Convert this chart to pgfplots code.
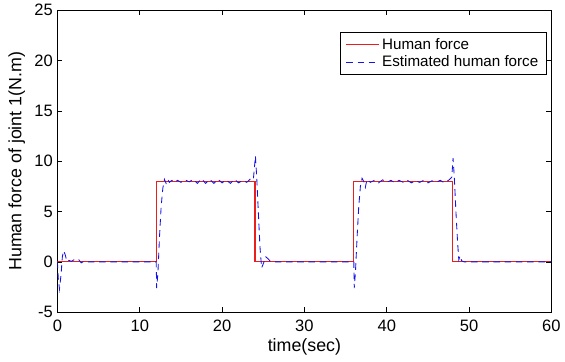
\documentclass[border=0pt]{standalone}
\usepackage{fontspec}
\setmainfont{Liberation Sans}
\usepackage{pgfplots}
\pgfplotsset{compat=1.18}
\begin{document}
\begin{tikzpicture}
\begin{axis}[
  name=ax,
  scale only axis,
  width=374.25pt, height=228.75pt,
  xmin=0, xmax=60, ymin=-5, ymax=25,
  xtick={0,10,...,60}, ytick={-5,0,...,25},
  tick align=inside,
  tick style={black, line width=0.4pt},
  major tick length=3.75pt,
  axis line style={line width=0.5pt},
  /pgf/number format/assume math mode=true,
  ticklabel style={font=\fontsize{12.5}{14}\selectfont},
  xticklabel style={yshift=-2pt},
  xlabel={time(sec)}, ylabel={Human force of joint 1(N.m)},
  label style={font=\fontsize{13.5}{15}\selectfont},
  xlabel style={at={(axis description cs:0.5,0)}, anchor=center, yshift=-26.5pt},
  ylabel style={at={(axis description cs:0,0.5)}, anchor=center, yshift=30.75pt},
  legend style={at={(1,1)}, anchor=north east, xshift=-3.75pt, yshift=-16.5pt,
    font=\fontsize{11.5}{13}\selectfont, draw=black, line width=0.4pt, inner xsep=4pt, inner ysep=2.5pt, row sep=-0.5pt},
  legend cell align=left,
  legend image post style={xscale=1.45},
]
\addplot[color={rgb,255:red,235;green,30;blue,30}, line width=0.9pt] coordinates {
(0,0) (12,0) (12,8) (24,8) (24,0) (36,0) (36,8) (48,8) (48,0) (60,0)};
\addlegendentry{Human force}
\addplot[color={rgb,255:red,20;green,20;blue,230}, line width=0.65pt, dash pattern=on 5pt off 3.5pt] coordinates {
(0,0) (0.1,-1.6) (0.25,-2.7) (0.45,-1.2) (0.6,0.5) (0.75,1.1) (0.95,0.7) (1.15,0.05) (1.4,0.15) (1.7,0.05) (2.0,0.2) (2.3,0.1) (2.6,0.2) (2.9,-0.1) (3.2,0.05) (3.6,0) (8,0) (12,0)
(12.05,-2.6) (12.2,-1.2) (12.4,2.5) (12.6,5.5) (12.8,7.3) (13.0,8.2) (13.2,7.8) (13.4,8.2) (13.6,7.9) (13.9,8.1) (14.2,7.9) (14.6,8.1) (15,7.9) (15.5,8.15) (16,7.95) (16.5,8.2) (17,7.8) (17.5,8.25) (18,7.8) (18.5,8.2) (19,7.8) (19.5,8.2) (20,7.85) (20.5,8.15) (21,7.8) (21.5,8.2) (22,7.85) (22.5,8.1) (23,7.9) (23.5,8.3) (23.8,8.2) (24.05,10.5)
(24.2,8.5) (24.4,5) (24.6,1.5) (24.8,-0.6) (25.0,-0.2) (25.3,0.5) (25.6,0.3) (25.9,0) (30,0) (36,0)
(36.05,-2.6) (36.2,-1.0) (36.4,2.5) (36.6,5.5) (36.8,7.5) (37.0,8.3) (37.2,8.0) (37.4,7.4) (37.6,8.2) (38,7.9) (38.5,8.1) (39,7.85) (39.5,8.15) (40,7.9) (40.5,8.1) (41,7.85) (41.5,8.1) (42,7.9) (42.5,8.1) (43,7.85) (43.5,8.05) (44,7.9) (44.5,8.1) (45,7.85) (45.5,8.05) (46,7.9) (46.5,8.1) (47,7.85) (47.5,8.1) (47.9,8.4) (48.05,10.3)
(48.2,8.5) (48.4,5) (48.6,2) (48.75,0.2) (48.9,0.6) (49.1,0.1) (49.4,0) (55,0) (60,0)};
\addlegendentry{Estimated human force\hspace{6pt}}
\end{axis}
\path (ax.south west) ++(-43.5pt,-37.5pt) coordinate (bbsw);
\path (ax.north east) ++(6pt,7.5pt) coordinate (bbne);
\path (bbsw) rectangle (bbne);
\end{tikzpicture}
\end{document}
